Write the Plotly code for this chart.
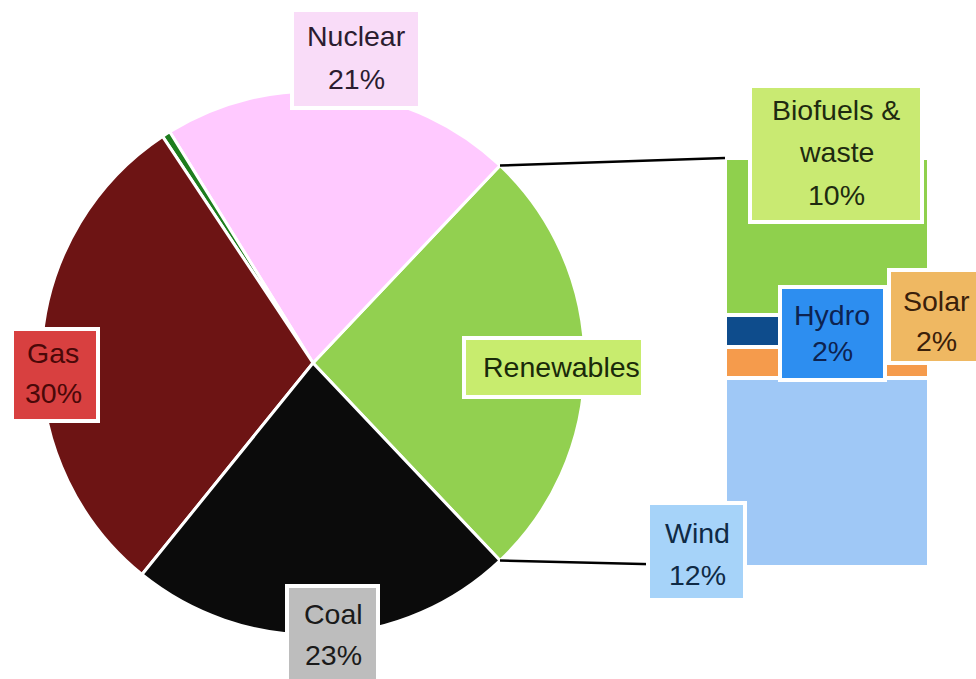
import math
import plotly.graph_objects as go

W, H = 976, 679

# Electricity generation mix, share of total (%)
mix_labels = ["Renewables", "Nuclear", "Other", "Gas", "Coal"]
mix_values = [26, 21, 0.5, 30, 23]
mix_colors = ["#92d050", "#ffc9ff", "#1e7d1e", "#6d1414", "#0b0b0b"]

# Renewables breakdown (%), stacked from the bottom up
ren_labels = ["Wind", "Solar", "Hydro", "Biofuels & waste"]
ren_values = [12, 2, 2, 10]
ren_colors = ["#9fc8f6", "#f59b4c", "#0e4c8c", "#8fd04d"]

FONT = "Liberation Sans, Arial, sans-serif"
FONT_SIZE = 28.5


def px(x):
    return x / W


def py(y):
    return 1 - y / H


def pct(v):
    return f"{v:g}%"


mix = dict(zip(mix_labels, mix_values))
ren = dict(zip(ren_labels, ren_values))

# Pie geometry (pixels)
cx, cy, r = 313, 363, 272
total = sum(mix_values)
half = mix["Renewables"] / total * 180.0  # half-angle of the renewables wedge

fig = go.Figure()

# Renewables wedge centred on 3 o'clock; the rest follow counterclockwise
fig.add_trace(go.Pie(
    labels=mix_labels,
    values=mix_values,
    sort=False,
    direction="counterclockwise",
    rotation=90 - half,
    marker=dict(colors=mix_colors, line=dict(color="white", width=3)),
    textinfo="none",
    hoverinfo="skip",
    showlegend=False,
    domain=dict(x=[px(cx - r), px(cx + r)], y=[py(cy + r), py(cy - r)]),
))

# Stacked column for the renewables breakdown
bar_x0, bar_x1, bar_top, bar_bot = 727, 927, 160, 565
for name, val, col in zip(ren_labels, ren_values, ren_colors):
    fig.add_trace(go.Bar(
        x=["Renewables"], y=[val], name=name,
        marker=dict(color=col, line=dict(color="white", width=4)),
        width=1, hoverinfo="skip", showlegend=False,
        xaxis="x", yaxis="y",
    ))

# Connector lines from the renewables wedge to the column
a = math.radians(half)
top_pt = (cx + r * math.cos(a), cy - r * math.sin(a))
bot_pt = (cx + r * math.cos(a), cy + r * math.sin(a))
shapes = [
    dict(type="line", xref="paper", yref="paper",
         x0=px(top_pt[0]), y0=py(top_pt[1]), x1=px(bar_x0 - 2), y1=py(bar_top - 2),
         line=dict(color="black", width=2.5), layer="above"),
    dict(type="line", xref="paper", yref="paper",
         x0=px(bot_pt[0]), y0=py(bot_pt[1]), x1=px(bar_x0 - 2), y1=py(bar_bot + 1),
         line=dict(color="black", width=2.5), layer="above"),
]

# Callout boxes: text lines, box (x0, y0, x1, y1), fill, font colour, x centre, line y centres
callouts = [
    (["Nuclear", pct(mix["Nuclear"])], (292, 10, 420, 108), "#f9dcf8", "#2b1c30", 356, [36, 79]),
    (["Biofuels &", "waste", pct(ren["Biofuels & waste"])], (750, 86, 922, 222),
     "#c9ea72", "#1e2a10", 836, [110, 152, 195]),
    (["Renewables"], (464, 338, 643, 397), "#c8ec6e", "#1a2a0a", 561, [367]),
    (["Hydro", pct(ren["Hydro"])], (780, 287, 885, 380), "#2d8ef0", "#0d2350", 832, [315, 351]),
    (["Solar", pct(ren["Solar"])], (889, 270, 982, 363), "#efb862", "#3a200a", 936, [301, 341]),
    (["Wind", pct(ren["Wind"])], (648, 503, 745, 600), "#a6d3f9", "#0f2a45", 697, [533, 575]),
    (["Coal", pct(mix["Coal"])], (287, 586, 378, 686), "#bdbdbd", "#1a1a1a", 333, [614, 655]),
    (["Gas", pct(mix["Gas"])], (12, 329, 98, 421), "#d84040", "#4a0808", 53, [353, 393]),
]

annotations = []
for lines, (x0, y0, x1, y1), fill, fcol, xc, ys in callouts:
    shapes.append(dict(type="rect", xref="paper", yref="paper",
                       x0=px(x0), x1=px(x1), y0=py(y1), y1=py(y0),
                       fillcolor=fill, line=dict(color="white", width=4), layer="above"))
    for t, yl in zip(lines, ys):
        annotations.append(dict(text=t, x=px(xc), y=py(yl), xref="paper", yref="paper",
                                xanchor="center", yanchor="middle", showarrow=False,
                                font=dict(family=FONT, size=FONT_SIZE, color=fcol)))

fig.update_layout(
    width=W, height=H,
    margin=dict(l=0, r=0, t=0, b=0),
    paper_bgcolor="white", plot_bgcolor="rgba(0,0,0,0)",
    barmode="stack", bargap=0,
    xaxis=dict(domain=[px(bar_x0 - 2), px(bar_x1 + 2)], range=[-0.5, 0.5],
               visible=False, fixedrange=True),
    yaxis=dict(domain=[py(bar_bot + 2), py(bar_top - 2)], range=[0, sum(ren_values)],
               visible=False, fixedrange=True),
    shapes=shapes,
    annotations=annotations,
)

fig.write_html("out.html")
